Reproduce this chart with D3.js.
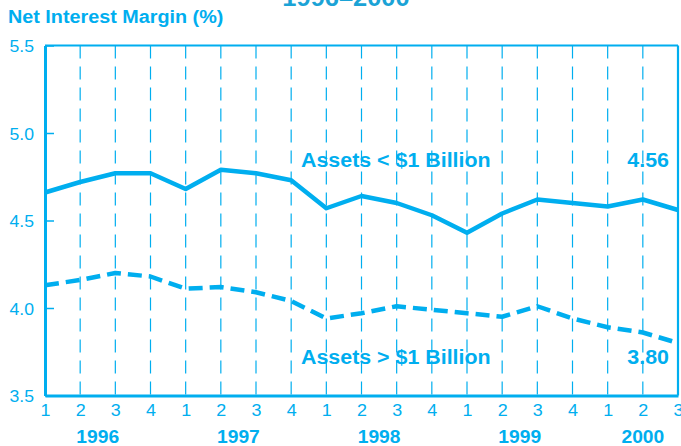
<!DOCTYPE html>
<html>
<head>
<meta charset="utf-8">
<script src="https://cdn.jsdelivr.net/npm/d3@7"></script>
<style>
  html, body { margin: 0; padding: 0; background: #fff; }
  svg { display: block; font-family: "Liberation Sans", Arial, Helvetica, sans-serif; }
</style>
</head>
<body>
<svg id="chart" width="681" height="446"></svg>
<script>
// ---- data ----
const quarters = ["1","2","3","4","1","2","3","4","1","2","3","4","1","2","3","4","1","2","3"];
const years = ["1996","1997","1998","1999","2000"];
const smallBanks = [4.66,4.72,4.77,4.77,4.68,4.79,4.77,4.73,4.57,4.64,4.60,4.53,4.43,4.54,4.62,4.60,4.58,4.62,4.56];
const largeBanks = [4.13,4.16,4.20,4.18,4.11,4.12,4.09,4.04,3.94,3.97,4.01,3.99,3.97,3.95,4.01,3.94,3.89,3.86,3.80];
const yTicks = [3.5,4.0,4.5,5.0,5.5];
const titleText = "1996\u20132000";
const yLabel = "Net Interest Margin (%)";
const smallLabel = "Assets < $1 Billion";
const largeLabel = "Assets > $1 Billion";

// ---- layout ----
const C = "#00AEEF";
const svg = d3.select("#chart");
const L = 45, R = 678, T = 45.5, B = 395.5;
const x = d3.scaleLinear().domain([0, quarters.length - 1]).range([L, R]);
const y = d3.scaleLinear().domain([3.5, 5.5]).range([B, T]);

function label(px, py, txt, size, sx, anchor, fill) {
  return svg.append("text")
    .attr("transform", `translate(${px},${py}) scale(${sx},1)`)
    .attr("text-anchor", anchor || "start")
    .attr("font-size", size).attr("font-weight", "bold")
    .attr("fill", fill || C).text(txt);
}

// title (mostly clipped at top)
label(346, 6, titleText, 24, 1.06, "middle", "#1BA3D6");

// y label
label(8, 23, yLabel, 18.5, 1.07);

// vertical dashed gridlines
svg.append("g").selectAll("line").data(d3.range(1, quarters.length - 1)).join("line")
  .attr("x1", d => x(d)).attr("x2", d => x(d)).attr("y1", T).attr("y2", B)
  .attr("stroke", C).attr("stroke-width", 1.2).attr("stroke-dasharray", "13,8");

// frame top & right
svg.append("line").attr("x1", L).attr("x2", R).attr("y1", T).attr("y2", T)
  .attr("stroke", C).attr("stroke-width", 2.2);
svg.append("line").attr("x1", R).attr("x2", R).attr("y1", T).attr("y2", B)
  .attr("stroke", C).attr("stroke-width", 2.2);

// left axis
const tsx = 1.1;
const gy = svg.append("g").attr("transform", `translate(${L},0)`)
  .call(d3.axisLeft(y).tickValues(yTicks).tickFormat(d3.format(".1f"))
    .tickSizeInner(-9).tickSizeOuter(0).tickPadding(11));
gy.select(".domain").attr("stroke", C).attr("stroke-width", 3);
gy.selectAll(".tick line").attr("stroke", C).attr("stroke-width", 1.5);
gy.selectAll(".tick text").attr("fill", C).attr("font-size", 16)
  .attr("font-family", "Liberation Sans, Arial, sans-serif").attr("dy", "0.38em")
  .attr("x", -11 / tsx).attr("transform", `scale(${tsx},1)`);

// bottom axis
const qsx = 1.12;
const gx = svg.append("g").attr("transform", `translate(0,${B})`)
  .call(d3.axisBottom(x).tickValues(d3.range(quarters.length)).tickFormat(i => quarters[i])
    .tickSize(0).tickPadding(9.5));
gx.select(".domain").attr("stroke", C).attr("stroke-width", 3);
gx.selectAll(".tick text").attr("fill", C).attr("font-size", 16)
  .attr("font-family", "Liberation Sans, Arial, sans-serif")
  .attr("transform", `scale(${qsx},1)`);

// year labels: centred on each year's quarters
years.forEach((yr, i) => {
  const first = i * 4, last = Math.min(i * 4 + 3, quarters.length - 1);
  label(x((first + last) / 2), 443, yr, 17.5, 1.1, "middle");
});

// lines
const line = d3.line().x((d, i) => x(i)).y(d => y(d));
svg.append("path").datum(smallBanks).attr("d", line)
  .attr("fill", "none").attr("stroke", C).attr("stroke-width", 4.5).attr("stroke-linejoin", "round");
svg.append("path").datum(largeBanks).attr("d", line)
  .attr("fill", "none").attr("stroke", C).attr("stroke-width", 4.5)
  .attr("stroke-dasharray", "14,7").attr("stroke-linejoin", "round");

// series labels
label(301, 167, smallLabel, 20, 1.07);
label(301, 364, largeLabel, 20, 1.07);
label(669, 167, d3.format(".2f")(smallBanks[smallBanks.length - 1]), 20, 1.07, "end");
label(669, 364, d3.format(".2f")(largeBanks[largeBanks.length - 1]), 20, 1.07, "end");
</script>
</body>
</html>
